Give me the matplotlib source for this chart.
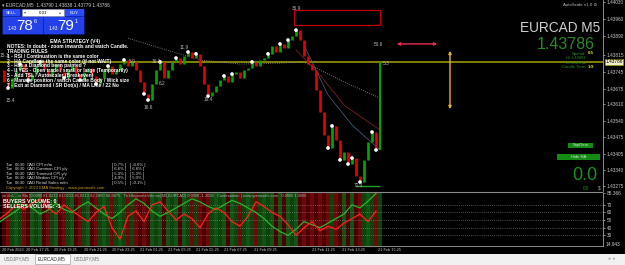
import matplotlib
matplotlib.use("Agg")
import matplotlib.pyplot as plt
from matplotlib.patches import Rectangle

plt.rcParams['font.family'] = ['Liberation Sans', 'DejaVu Sans']

W, H = 625, 265

# heiken ashi closes, one bar per 4 px column
closes = [1.43752, 1.43702, 1.43677, 1.43719, 1.43752, 1.43776, 1.43743, 1.43710, 1.43735, 1.43768,
          1.43785, 1.43752, 1.43727, 1.43760, 1.43776, 1.43743, 1.43719, 1.43752, 1.43768, 1.43735,
          1.43710, 1.43743, 1.43760, 1.43727, 1.43694, 1.43719, 1.43752, 1.43768, 1.43735, 1.43752,
          1.43776, 1.43793, 1.43768, 1.43785, 1.43752, 1.43702, 1.43653, 1.43628, 1.43694, 1.43752,
          1.43785, 1.43719, 1.43752, 1.43785, 1.43801, 1.43776, 1.43809, 1.43826, 1.43801, 1.43818,
          1.43768, 1.43694, 1.43644, 1.43661, 1.43686, 1.43710, 1.43727, 1.43702, 1.43735, 1.43743,
          1.43719, 1.43752, 1.43760, 1.43785, 1.43768, 1.43793, 1.43801, 1.43818, 1.43851, 1.43826,
          1.43859, 1.43842, 1.43875, 1.43892, 1.43916, 1.43875, 1.43809, 1.43776, 1.43752, 1.43669,
          1.43579, 1.43484, 1.43430, 1.43521, 1.43463, 1.43381, 1.43414, 1.43364, 1.43389, 1.43315,
          1.43290, 1.43381, 1.43455, 1.43496, 1.43422]
last_price = 1.43786
dot_bars = [2, 5, 7, 10, 16, 20, 24, 27, 31, 36, 37, 40, 44, 47, 49, 52, 56, 58, 63, 67,
            70, 72, 74, 82, 83, 85, 87, 88, 90, 93, 94]
swing_labels = [("15.1", 1, 1.43813), ("15.4", 2.5, 1.43624), ("5.9", 33, 1.43785),
                ("16.1", 39, 1.43785), ("16.6", 37, 1.43595), ("6.2", 40.5, 1.43698),
                ("11.9", 46, 1.43846), ("19.4", 52, 1.43628), ("36.9", 74, 1.44007),
                ("50.6", 94.5, 1.43855), ("5.3", 96.5, 1.43780), ("72.0", 89.5, 1.43274)]
ma_grey_bars = [32, 40, 50, 60, 70, 76, 85, 95]
ma_grey = [1.43883, 1.43842, 1.43793, 1.43776, 1.43780, 1.43785, 1.43710, 1.43636]
ma_red_bars = [74, 80, 86, 95]
ma_red = [1.43834, 1.43731, 1.43607, 1.43504]
ma_blue_bars = [76, 82, 88, 95]
ma_blue = [1.43854, 1.43649, 1.43525, 1.43422]
zone_bars = [73.5, 95]
zone_prices = [1.43937, 1.43999]
support_bars = [89, 95]
support_price = 1.43274

price_ticks = [1.44030, 1.43960, 1.43890, 1.43815, 1.43745, 1.43675,
               1.43610, 1.43540, 1.43475, 1.43405, 1.43340, 1.43275]

# TickSeparateVolume lines, one value per 2 bars
buyers = [48, 55, 62, 70, 66, 58, 63, 72, 64, 60, 68, 74, 66, 58, 52, 60, 70, 78, 72, 62,
          55, 60, 66, 72, 78, 74, 68, 64, 70, 76, 72, 66, 60, 52, 42, 35, 30, 38, 48, 44,
          40, 46, 52, 58, 70, 66, 75, 85]
sellers = [52, 60, 70, 64, 72, 78, 66, 58, 70, 62, 55, 48, 60, 68, 40, 25, 55, 62, 48, 70,
           74, 62, 50, 58, 52, 40, 58, 66, 60, 48, 42, 55, 74, 68, 60, 55, 44, 30, 40, 48,
           36, 42, 38, 46, 52, 58, 48, 62]
ind_levels = [70, 60, 50, 40, 30]

time_labels = ["20 Feb 2023", "20 Feb 17:25", "20 Feb 19:25", "20 Feb 21:25", "20 Feb 23:25",
               "21 Feb 01:25", "21 Feb 03:25", "21 Feb 05:25", "21 Feb 07:25", "21 Feb 09:25",
               "21 Feb 11:25", "21 Feb 13:25", "21 Feb 15:25"]
time_bars = [0.5, 6.5, 13.5, 21, 28, 35, 42, 49, 56, 63.5, 78, 85.5, 94.5]

rules = ["NOTES: In doubt - zoom inwards and watch Candle.",
         "TRADING RULES",
         "1 - RSI / Continuation is the same color",
         "2 - HA Candle is the same color (if not WAIT)",
         "3 - Has a Diamond been painted ?",
         "4 - If YES - Open trade / small or large (Temporarily)",
         "5 - Add TSL / Autoscaler (Breakeven)",
         "6 - Manage position / watch Candle Body / Wick size",
         "7 - Exit at Diamond / SR Dot(s) / MA Line / 22 No"]

news_events = ["CPI m/m", "Common CPI y/y", "Trimmed CPI y/y", "Median CPI y/y", "Retail Sales m/m"]
news_actual = ["0.7%", "6.6%", "5.3%", "4.9%", "0.5%"]
news_forecast = ["-0.6%", "6.6%", "5.3%", "5.0%", "-0.1%"]


def rect(x0, y0, x1, y1):
    return [x0 / W, 1 - y1 / H, (x1 - x0) / W, (y1 - y0) / H]


fig = plt.figure(figsize=(6.25, 2.65), dpi=100, facecolor='black')

# ---- main price chart
ax = fig.add_axes(rect(0, 0, 603, 191))
ax.set_facecolor('black')
ax.set_xlim(0, 150.75)
ax.set_ylim(1.43253, 1.44040)

ax.axhline(last_price, color='#a5a500', lw=1.1, zorder=1)
ax.plot(ma_grey_bars, ma_grey, color='#9a9a9a', lw=0.6, ls=':', zorder=2)
ax.plot(ma_red_bars, ma_red, color='#7a2020', lw=0.6, zorder=2)
ax.plot(ma_blue_bars, ma_blue, color='#4a6a8a', lw=0.5, zorder=2)

opens = [closes[0]] + closes[:-1]
for i in range(1, len(closes)):
    o, c = opens[i], closes[i]
    col = '#00a800' if c >= o else '#e80000'
    ax.vlines(i, min(o, c), max(o, c), color=col, lw=1.9, zorder=3)
ax.vlines(len(closes), closes[-1], last_price, color='#00a800', lw=1.4, zorder=3)

ax.scatter(dot_bars, [closes[i] for i in dot_bars], s=7, c='white', edgecolors='none', zorder=4)

for txt, b, p in swing_labels:
    ax.text(b, p, txt, color='#b8b8b8', fontsize=3.4, ha='center', va='center', zorder=5)

ax.add_patch(Rectangle((zone_bars[0], zone_prices[0]), zone_bars[1] - zone_bars[0],
                       zone_prices[1] - zone_prices[0], fill=False, ec='#c00000', lw=0.9))
ax.hlines(support_price, support_bars[0], support_bars[1], color='#1fa01f', lw=1.0)

ax.annotate('', xy=(98.5, 1.43859), xytext=(110, 1.43859),
            arrowprops=dict(arrowstyle='<|-|>', color='#e8304a', lw=1.0, mutation_scale=4))
ax.annotate('', xy=(112.5, 1.43842), xytext=(112.5, 1.43579),
            arrowprops=dict(arrowstyle='<|-|>', color='#e8b030', lw=1.0, mutation_scale=4))

ax.yaxis.tick_right()
ax.set_yticks(price_ticks)
ax.set_yticklabels(['%.5f' % p for p in price_ticks])
ax.tick_params(axis='y', colors='#c8c8c8', labelsize=3.4, length=1.5, width=0.5, pad=1)
ax.set_xticks([])
for s in ['top', 'left', 'bottom']:
    ax.spines[s].set_visible(False)
ax.spines['right'].set_color('#a0a0a0')
ax.spines['right'].set_linewidth(0.6)
ax.annotate('%.5f' % last_price, xy=(1.0, last_price), xycoords=('axes fraction', 'data'),
            xytext=(1.5, 0), textcoords='offset points', fontsize=3.4, color='black', va='center',
            bbox=dict(boxstyle='square,pad=0.12', fc='#f0f0c8', ec='#a5a500', lw=0.4))

# ---- volume indicator
ind = fig.add_axes(rect(0, 193, 603, 246))
ind.set_facecolor('black')
ind.set_xlim(0, 150.75)
ind.set_ylim(16.0, 85.6)
for i in range(1, len(closes) + 1):
    up = True if i == len(closes) else closes[i] >= opens[i]
    if up:
        col = '#0c420c' if i % 2 else '#145214'
    else:
        col = '#4a0000' if i % 2 else '#6e0808'
    ind.add_patch(Rectangle((i - 0.5, 16.0), 1, 69.6, fc=col, ec='none', zorder=0))
for lv in ind_levels:
    ind.axhline(lv, color='#9a9a9a', lw=0.5, ls=(0, (1, 2)), zorder=1)
xb = [2 * k for k in range(len(buyers))]
ind.plot(xb, buyers, color='#28b428', lw=0.9, zorder=3)
ind.plot(xb, sellers, color='#ff2020', lw=0.9, zorder=3)
ind.yaxis.tick_right()
ind.set_yticks([85.366] + ind_levels)
ind.set_yticklabels(['85.366'] + [str(v) for v in ind_levels])
ind.tick_params(axis='y', colors='#c8c8c8', labelsize=3.4, length=1.5, width=0.5, pad=1)
ind.set_xticks([])
for s in ['top', 'left']:
    ind.spines[s].set_visible(False)
ind.spines['right'].set_color('#a0a0a0')
ind.spines['right'].set_linewidth(0.6)
ind.spines['bottom'].set_color('#a0a0a0')
ind.spines['bottom'].set_linewidth(0.6)

# ---- overlay in pixel coordinates
ui = fig.add_axes([0, 0, 1, 1])
ui.set_xlim(0, W)
ui.set_ylim(H, 0)
ui.axis('off')
ui.patch.set_alpha(0)

ui.hlines(192, 0, 603, color='#8a8a8a', lw=0.8)
ui.text(605.5, 244, '14.943', color='#c8c8c8', fontsize=3.4, va='center')

# header + trade panel
ui.text(2, 4.5, '\u25be EURCAD,M5  1.43790 1.43838 1.43779 1.43786', color='#d0d0d0', fontsize=3.4, va='center')
ui.add_patch(Rectangle((2, 8.5), 82, 25.5, fc='#1028b0', ec='#0a1a70', lw=0.5))
ui.add_patch(Rectangle((2.5, 9), 17.5, 7, fc='#2a4cf0', ec='none'))
ui.add_patch(Rectangle((22, 9), 42, 7, fc='white', ec='#9090a0', lw=0.4))
ui.add_patch(Rectangle((65, 9), 18.5, 7, fc='#2a4cf0', ec='none'))
ui.text(11, 12.5, 'SELL', color='white', fontsize=3.2, ha='center', va='center')
ui.text(74, 12.5, 'BUY', color='white', fontsize=3.2, ha='center', va='center')
ui.text(43, 12.5, '0.01', color='black', fontsize=3.2, ha='center', va='center')
ui.text(25, 12.5, '\u25be', color='#606060', fontsize=3, ha='center', va='center')
ui.text(60, 12.5, '\u25b4', color='#606060', fontsize=3, ha='center', va='center')
for x0, big, sup in [(2.5, '78', '6'), (43.5, '79', '1')]:
    ui.add_patch(Rectangle((x0, 17), 40, 16.5, fc='#2440e8', ec='none'))
    ui.text(x0 + 5, 29, '1.43', color='white', fontsize=3.4, va='center')
    ui.text(x0 + 14, 26, big, color='white', fontsize=11, va='center')
    ui.text(x0 + 31, 21.5, sup, color='white', fontsize=4, va='center')

# strategy notes
ui.text(50, 42, 'EMA STRATEGY (V4)', color='white', fontsize=3.6, fontweight='bold', va='center')
for k, line in enumerate(rules):
    ui.text(7, 46.7 + 4.8 * k, line, color='white', fontsize=3.5, fontweight='bold', va='center')

# news table
for k, ev in enumerate(news_events):
    y = 165 + 4.4 * k
    for x, t in [(6, 'Tue'), (15, '08:30'), (27, 'CAD'), (36, ev)]:
        ui.text(x, y, t, color='#d8d8d8', fontsize=3.1, va='center')
    ui.text(112, y, '[ %s ]' % news_actual[k], color='#d8d8d8', fontsize=3.1, va='center')
    ui.text(130, y, '[ %s ]' % news_forecast[k], color='#d8d8d8', fontsize=3.1, va='center')
ui.text(6, 188.5, 'Copyright \u00a9 2023 EMA Strategy - www.yomasafx.com', color='#c8a020', fontsize=3.0, va='center')

# right side info
ui.text(597, 5, 'AutoScale v1.0 \u2299', color='#c0c0c0', fontsize=3.2, ha='right', va='center')
ui.text(600, 28, 'EURCAD M5', color='#d0d0d0', fontsize=9.8, ha='right', va='center')
ui.text(595, 44.5, '%.5f' % last_price, color='#2a8a2a', fontsize=11.5, ha='right', va='center')
ui.text(586, 53.5, 'Spread:', color='#2a8a2a', fontsize=3.0, ha='right', va='center')
ui.text(588, 53.5, '0.5', color='#e8e020', fontsize=3.2, fontweight='bold', va='center')
ui.text(586, 58, 'Hi 1.43881', color='#2a8a2a', fontsize=3.0, ha='right', va='center')
ui.text(586, 62.5, 'Lo 1.43742', color='#2a8a2a', fontsize=3.0, ha='right', va='center')
ui.text(586, 67.5, 'Candle Time:', color='#2a8a2a', fontsize=3.0, ha='right', va='center')
ui.text(588, 67.5, '1:9', color='#e8e020', fontsize=3.2, fontweight='bold', va='center')

ui.add_patch(Rectangle((568, 142.5), 25, 5, fc='#148c14', ec='none'))
ui.text(580.5, 145, 'SupDem', color='#e0e0e0', fontsize=3.0, ha='center', va='center')
ui.add_patch(Rectangle((557, 154), 43, 5.5, fc='#148c14', ec='none'))
ui.text(578.5, 156.8, 'Hide HA', color='#e0e0e0', fontsize=3.0, ha='center', va='center')
ui.text(597, 176, '0.0', color='#1f8f1f', fontsize=13, ha='right', va='center')
ui.text(589, 188, '0.0', color='#1f8f1f', fontsize=3.3, ha='right', va='center')
ui.text(599, 188, '$', color='#b0b0b0', fontsize=3.3, ha='center', va='center')

# indicator header
ui.text(2, 196.5, 've dn1 - nr Ma [0.0000 81.0213 81.0213 81.0213 82.1860 66.8875   '
        'TickSeparateVolume(M5,EURCAD) 0.0000 -1.2080   Continuation | www.yomasafx.com   0.0000 1.0000',
        color='#b0b0b0', fontsize=2.9, va='center')
ui.text(3, 201.5, 'BUYERS VOLUME: 0', color='white', fontsize=3.9, fontweight='bold', va='center')
ui.text(3, 206.5, 'SELLERS VOLUME: -1', color='white', fontsize=3.9, fontweight='bold', va='center')

# time axis
for lab, b in zip(time_labels, time_bars):
    ui.text(b * 4, 250, lab, color='#c8c8c8', fontsize=2.8, va='center')

# tab bar
ui.add_patch(Rectangle((0, 254), W, 11, fc='#f0f0f0', ec='none'))
ui.add_patch(Rectangle((35, 254), 35, 9.5, fc='white', ec='#a0a0a0', lw=0.5))
ui.text(4, 259, 'USDJPY,M5', color='#707070', fontsize=3.4, va='center')
ui.text(38, 259, 'EURCAD,M5', color='#202020', fontsize=3.4, va='center')
ui.text(74, 259, 'USDJPY,M5', color='#707070', fontsize=3.4, va='center')
ui.text(612, 259, '\u25c2  \u25b8', color='#a0a0a0', fontsize=3.4, ha='center', va='center')

fig.savefig('out.png', dpi=100, facecolor='black')
